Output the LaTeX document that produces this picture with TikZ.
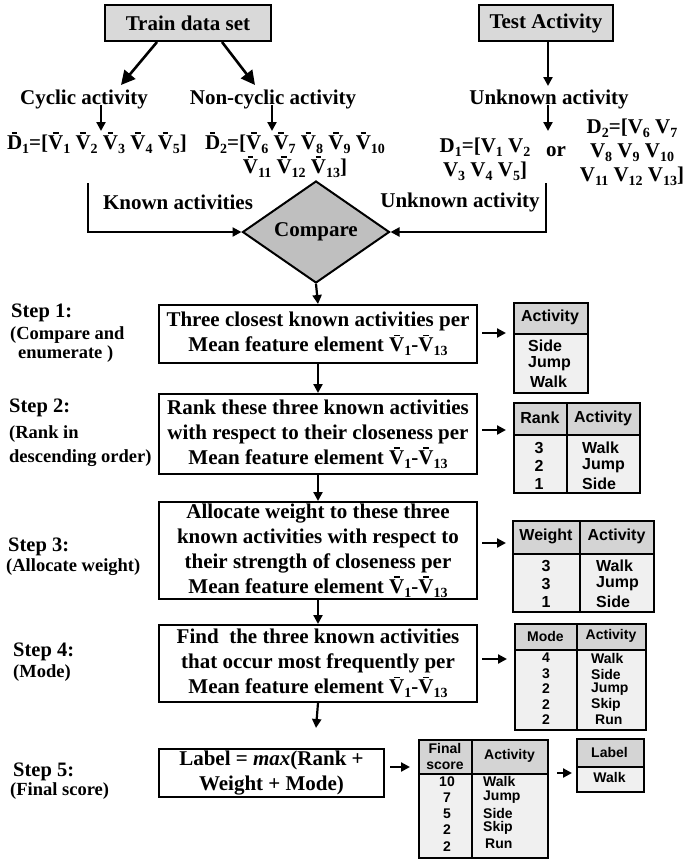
\documentclass[tikz,border=0pt]{standalone}
\usepackage{fontspec}
\setmainfont{Liberation Serif}
\newfontfamily\arialf{Liberation Sans}
\usetikzlibrary{shapes.geometric,arrows.meta}
\newcommand\ob[1]{\leavevmode\setbox0=\hbox{#1}\rlap{\hbox to \wd0{\hss\raisebox{\dimexpr\ht0+0.07em\relax}{\rule{0.27em}{0.07em}}\hss}}\box0}
\newcommand\sbs[1]{\raisebox{-0.2em}{\fontsize{14}{14}\selectfont #1}}
\begin{document}
\begin{tikzpicture}[x=1pt,y=-1pt,
 mt/.style={font=\fontsize{21}{25}\selectfont\bfseries, inner sep=0pt, align=center},
 ls/.style={font=\fontsize{20.5}{22}\selectfont\bfseries, inner sep=0pt, anchor=west},
 lt/.style={font=\fontsize{18.5}{22}\selectfont\bfseries, inner sep=0pt, anchor=west},
 stepbox/.style={draw, line width=2pt, fill=white, anchor=north west, minimum width=318pt, mt},
 gbox/.style={draw, line width=2pt, fill=black!15, anchor=north west, mt},
 arr/.style={line width=2.2pt, -{Triangle[length=9pt,width=9pt]}},
 bigarr/.style={line width=2.6pt, -{Triangle[length=14pt,width=14pt]}},
 thd/.style={draw, line width=2pt, fill=black!17, anchor=north west, inner sep=0pt},
 tbd/.style={draw, line width=2pt, fill=black!6, anchor=north west, inner sep=0pt},
 ta/.style={font=\arialf\fontsize{16}{16}\selectfont\bfseries, inner sep=0pt},
 tb/.style={font=\arialf\fontsize{14}{16}\selectfont\bfseries, inner sep=0pt, align=center},
 tl/.style={line width=2pt}
]
\useasboundingbox[fill=white] (0,0) rectangle (686,860);

% top boxes
\node[gbox, minimum width=166pt, minimum height=36pt] (train) at (104,4) {Train data set};
\node[gbox, minimum width=134pt, minimum height=36pt] (test) at (478,4) {Test Activity};

\node[mt] (cyc) at (84,99) {Cyclic activity};
\node[mt] (ncyc) at (273,99) {Non-cyclic activity};
\node[mt] (unk) at (549,99) {Unknown activity};

\coordinate (a1e) at (121,85);
\coordinate (a2e) at (255,85);
\coordinate (a3e) at (548,86);
\draw[bigarr] ([xshift=-31pt]train.south) -- (a1e);
\draw[bigarr] ([xshift=34pt]train.south) -- (a2e);
\draw[arr] (test.south -| 548,0) -- (a3e);

\node[mt] (d1) at (97,143) {\ob{D}\sbs{1}=[\ob{V}\sbs{1} \ob{V}\sbs{2} \ob{V}\sbs{3} \ob{V}\sbs{4} \ob{V}\sbs{5}]};
\node[mt, font=\fontsize{21}{24}\selectfont\bfseries] (d2) at (295,155) {\ob{D}\sbs{2}=[\ob{V}\sbs{6} \ob{V}\sbs{7} \ob{V}\sbs{8} \ob{V}\sbs{9} \ob{V}\sbs{10}\\\ob{V}\sbs{11} \ob{V}\sbs{12} \ob{V}\sbs{13}]};
\node[mt, font=\fontsize{21}{24}\selectfont\bfseries] (td1) at (485,159) {D\sbs{1}=[V\sbs{1} V\sbs{2}\\V\sbs{3} V\sbs{4} V\sbs{5}]};
\node[mt] (or) at (556,152) {or};
\node[mt, font=\fontsize{21}{24}\selectfont\bfseries] (td2) at (632,152) {D\sbs{2}=[V\sbs{6} V\sbs{7}\\V\sbs{8} V\sbs{9} V\sbs{10}\\V\sbs{11} V\sbs{12} V\sbs{13}]};

\coordinate (c1s) at (101,105); \coordinate (c1e) at (101,131);
\coordinate (c2s) at (272,105); \coordinate (c2e) at (272,131);
\coordinate (c3s) at (548,105); \coordinate (c3e) at (548,131);
\draw[arr] (c1s) -- (c1e);
\draw[arr] (c2s) -- (c2e);
\draw[arr] (c3s) -- (c3e);

% compare
\node[diamond, draw, line width=2pt, fill=black!25, minimum width=147pt, minimum height=80pt, inner sep=0pt, mt] (cmp) at (316,232) {Compare};
\node[mt] (kn) at (178,202) {Known activities};
\node[mt] (ukn) at (460,202) {Unknown activity};
\coordinate (kl) at (88,183);
\coordinate (ul) at (546,183);
\draw[arr] (kl) |- (cmp.west);
\draw[arr] (ul) |- (cmp.east);

% steps
\node[stepbox, minimum height=58pt] (s1) at (158,304) {Three closest known activities per\\Mean feature element \ob{V}\sbs{1}-\ob{V}\sbs{13}};
\node[stepbox, minimum height=80pt] (s2) at (158,393) {Rank these three known activities\\with respect to their closeness per\\Mean feature element \ob{V}\sbs{1}-\ob{V}\sbs{13}};
\node[stepbox, minimum height=97pt] (s3) at (158,501) {Allocate weight to these three\\known activities with respect to\\their strength of closeness per\\Mean feature element \ob{V}\sbs{1}-\ob{V}\sbs{13}};
\node[stepbox, minimum height=77pt] (s4) at (158,624) {Find\ \ the three known activities\\that occur most frequently per\\Mean feature element \ob{V}\sbs{1}-\ob{V}\sbs{13}};
\node[stepbox, minimum width=225pt, minimum height=48pt] (s5) at (158,748) {Label = \textit{max}(Rank +\\Weight + Mode)};

\draw[arr] (cmp.south) -- (s1.north);
\draw[arr] (s1.south) -- (s2.north);
\draw[arr] (s2.south) -- (s3.north);
\draw[arr] (s3.south) -- (s4.north);
\coordinate (e4) at (316,728);
\draw[arr] (s4.south) -- (e4);

% step labels
\node[ls] (l1a) at (11,313) {Step 1:};
\node[lt] (l1b) at (10,335) {(Compare and};
\node[lt] (l1c) at (18,354) {enumerate )};
\node[ls] (l2a) at (9,408) {Step 2:};
\node[lt] (l2b) at (9,434) {(Rank in};
\node[lt] (l2c) at (9,458) {descending order)};
\node[ls] (l3a) at (8,547) {Step 3:};
\node[lt] (l3b) at (6,567) {(Allocate weight)};
\node[ls] (l4a) at (13,652) {Step 4:};
\node[lt] (l4b) at (13,673) {(Mode)};
\node[ls] (l5a) at (13,772) {Step 5:};
\node[lt] (l5b) at (10,791) {(Final score)};

% table 1
\node[thd, minimum width=74pt, minimum height=31pt] (t1h) at (513,302) {};
\node[tbd, minimum width=74pt, minimum height=59pt] (t1b) at (513,333) {};
\node[ta] (t1x) at (550,317.5) {Activity};
\node[ta, anchor=west] (t1r1) at (528,346) {Side};
\node[ta, anchor=west] (t1r2) at (528,364) {Jump};
\node[ta, anchor=west] (t1r3) at (530,382) {Walk};
\draw[arr, shorten <=4pt, shorten >=7pt] (s1.east |- 0,333) -- (t1b.west |- 0,333);

% table 2
\node[thd, minimum width=126pt, minimum height=32pt] (t2h) at (513,402) {};
\node[tbd, minimum width=126pt, minimum height=58pt] (t2b) at (513,434) {};
\draw[tl] (t2h.north -| 567,0) -- (t2b.south -| 567,0);
\node[ta] (t2x) at (540,418) {Rank};
\node[ta] (t2y) at (603,418) {Activity};
\node[ta] (t2n1) at (539,448) {3};
\node[ta] (t2n2) at (539,466) {2};
\node[ta] (t2n3) at (539,484) {1};
\node[ta, anchor=west] (t2r1) at (582,448) {Walk};
\node[ta, anchor=west] (t2r2) at (582,466) {Jump};
\node[ta, anchor=west] (t2r3) at (582,484) {Side};
\draw[arr, shorten <=4pt, shorten >=7pt] (s2.east |- 0,430) -- (t2b.west |- 0,430);

% table 3
\node[thd, minimum width=141pt, minimum height=33pt] (t3h) at (512,520) {};
\node[tbd, minimum width=141pt, minimum height=58pt] (t3b) at (512,553) {};
\draw[tl] (t3h.north -| 580,0) -- (t3b.south -| 580,0);
\node[ta] (t3x) at (546,536.5) {Weight};
\node[ta] (t3y) at (616.5,536.5) {Activity};
\node[ta] (t3n1) at (546,566) {3};
\node[ta] (t3n2) at (546,584) {3};
\node[ta] (t3n3) at (546,602) {1};
\node[ta, anchor=west] (t3r1) at (596,566) {Walk};
\node[ta, anchor=west] (t3r2) at (596,584) {Jump};
\node[ta, anchor=west] (t3r3) at (596,602) {Side};
\draw[arr, shorten <=4pt, shorten >=6pt] (s3.east |- 0,543) -- (t3b.west |- 0,543);

% table 4
\node[thd, minimum width=131pt, minimum height=26pt] (t4h) at (514,623) {};
\node[tbd, minimum width=131pt, minimum height=80pt] (t4b) at (514,649) {};
\draw[tl] (t4h.north -| 577,0) -- (t4b.south -| 577,0);
\node[tb] (t4x) at (545.5,636) {Mode};
\node[tb] (t4y) at (611,636) {Activity};
\node[tb] (t4n1) at (546,658) {4};
\node[tb] (t4n2) at (546,674) {3};
\node[tb] (t4n3) at (546,689) {2};
\node[tb] (t4n4) at (546,705) {2};
\node[tb] (t4n5) at (546,720) {2};
\node[tb, anchor=west] (t4r1) at (591,658) {Walk};
\node[tb, anchor=west] (t4r2) at (591,674) {Side};
\node[tb, anchor=west] (t4r3) at (591,689) {Jump};
\node[tb, anchor=west] (t4r4) at (591,705) {Skip};
\node[tb, anchor=west] (t4r5) at (595,720) {Run};
\draw[arr, shorten <=4pt, shorten >=7pt] (s4.east |- 0,659) -- (t4b.west |- 0,659);

% table 5
\node[thd, minimum width=129pt, minimum height=34pt] (t5h) at (418,739) {};
\node[tbd, minimum width=129pt, minimum height=84pt] (t5b) at (418,773) {};
\draw[tl] (t5h.north -| 472,0) -- (t5b.south -| 472,0);
\node[tb] (t5x) at (445,756) {Final\\score};
\node[tb] (t5y) at (509.5,756) {Activity};
\node[tb] (t5n1) at (447,782) {10};
\node[tb] (t5n2) at (447,798) {7};
\node[tb] (t5n3) at (447,814) {5};
\node[tb] (t5n4) at (447,830) {2};
\node[tb] (t5n5) at (447,847) {2};
\node[tb, anchor=west] (t5r1) at (483,781) {Walk};
\node[tb, anchor=west] (t5r2) at (483,797) {Jump};
\node[tb, anchor=west] (t5r3) at (483,813) {Side};
\node[tb, anchor=west] (t5r4) at (483,828) {Skip};
\node[tb, anchor=west] (t5r5) at (485,844) {Run};
\draw[arr, shorten <=5pt, shorten >=8pt] (s5.east |- 0,767) -- (t5h.west |- 0,767);

% table 6
\node[thd, minimum width=67pt, minimum height=28pt] (t6h) at (576,738) {};
\node[tbd, minimum width=67pt, minimum height=25pt] (t6b) at (576,766) {};
\node[tb] (t6x) at (609.5,752) {Label};
\node[tb] (t6y) at (609.5,777) {Walk};
\draw[arr, shorten <=8pt, shorten >=4pt] (t5h.east |- 0,773) -- (t6b.west |- 0,773);
\end{tikzpicture}
\end{document}
